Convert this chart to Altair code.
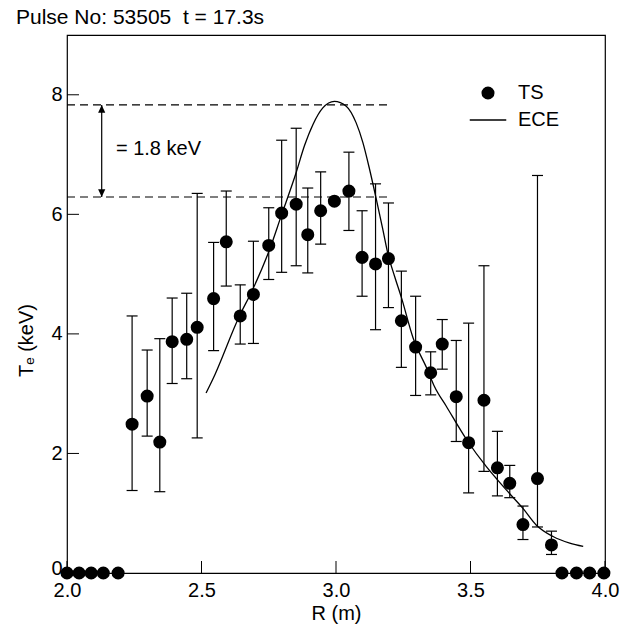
import altair as alt
import pandas as pd

title_text = "Pulse No: 53505\u00a0 t = 17.3s"

# Thomson scattering (TS) profile, R (m) and Te (keV)
ts_r = [2.000, 2.045, 2.090, 2.135, 2.190, 2.242, 2.298, 2.345, 2.391, 2.445,
        2.484, 2.545, 2.592, 2.644, 2.693, 2.750, 2.798, 2.852, 2.895, 2.943,
        2.994, 3.048, 3.097, 3.147, 3.195, 3.243, 3.296, 3.352, 3.395, 3.447,
        3.493, 3.550, 3.600, 3.646, 3.695, 3.749, 3.801, 3.840, 3.894, 3.943,
        3.996]
ts_te = [0, 0, 0, 0, 0, 2.49, 2.96, 2.19, 3.87, 3.91,
         4.11, 4.59, 5.54, 4.30, 4.66, 5.48, 6.02, 6.17, 5.66, 6.06,
         6.22, 6.39, 5.28, 5.17, 5.26, 4.22, 3.78, 3.35, 3.83, 2.95,
         2.18, 2.89, 1.76, 1.50, 0.81, 1.58, 0.47, 0, 0, 0,
         0]

# TS error bars
err_r = [2.242, 2.298, 2.345, 2.391, 2.445, 2.484, 2.545, 2.592, 2.644, 2.693,
         2.750, 2.798, 2.852, 2.895, 2.943, 3.048, 3.097, 3.147, 3.195, 3.243,
         3.296, 3.352, 3.395, 3.447, 3.493, 3.550, 3.600, 3.646, 3.695, 3.749,
         3.801]
err_hi = [4.30, 3.73, 3.92, 4.60, 4.68, 6.35, 5.53, 6.39, 4.82, 5.55,
          6.11, 7.24, 7.44, 6.44, 6.71, 7.04, 6.06, 6.51, 6.19, 5.05,
          4.63, 3.70, 4.24, 3.89, 4.18, 5.14, 2.37, 1.80, 1.12, 6.65,
          0.70]
err_lo = [1.38, 2.29, 1.36, 3.17, 3.25, 2.26, 3.72, 4.80, 3.83, 3.84,
          4.91, 5.03, 5.14, 5.02, 5.50, 5.73, 4.63, 4.07, 4.44, 3.44,
          2.97, 2.98, 3.41, 2.20, 1.34, 1.70, 1.29, 1.26, 0.56, 0.77,
          0.31]

# ECE profile
ece_r = [2.517, 2.542, 2.641, 2.690, 2.753, 2.796, 2.852, 2.883, 2.914, 2.951,
         2.994, 3.038, 3.075, 3.100, 3.125, 3.150, 3.174, 3.193, 3.218, 3.243,
         3.286, 3.340, 3.366, 3.410, 3.490, 3.559, 3.602, 3.645, 3.695, 3.745,
         3.807, 3.869, 3.919]
ece_te = [3.01, 3.24, 4.30, 4.74, 5.41, 5.97, 6.70, 7.15, 7.50, 7.78,
          7.89, 7.81, 7.53, 7.20, 6.75, 6.25, 5.75, 5.34, 4.96, 4.61,
          3.94, 3.40, 3.12, 2.79, 2.20, 1.78, 1.55, 1.33, 1.08, 0.80,
          0.61, 0.50, 0.445]

x_ticks = [2.0, 2.5, 3.0, 3.5, 4.0]
y_ticks = [0, 2, 4, 6, 8]

# annotation: difference between ECE peak and TS peak
dash_levels = [7.83, 6.29]
dash_start = [2.0, 2.0]
dash_end = [3.19, 3.19]
arrow_r = [2.129]
arrow_top = [7.83]
arrow_bot = [6.29]
note_text = ["= 1.8 keV"]
note_r = [2.182]
note_te = [7.085]

series_names = ["TS", "ECE"]

FONT = "Liberation Sans"

ts_df = pd.DataFrame({"R": ts_r, "Te": ts_te, "series": "TS"})
err_df = pd.DataFrame({"R": err_r, "hi": err_hi, "lo": err_lo})
ece_df = pd.DataFrame({"R": ece_r, "Te": ece_te})
xt_df = pd.DataFrame({"R": x_ticks, "Te": [0] * len(x_ticks)})
yt_df = pd.DataFrame({"R": [2.0] * len(y_ticks), "Te": y_ticks})
dash_df = pd.DataFrame({"R": dash_start, "R2": dash_end, "Te": dash_levels})
arrow_df = pd.DataFrame({"R": arrow_r, "Te": arrow_top, "Te2": arrow_bot})
note_df = pd.DataFrame({"R": note_r, "Te": note_te, "txt": note_text})

xs = alt.Scale(domain=[2.0, 4.0], nice=False, zero=False)
ys = alt.Scale(domain=[0, 9], nice=False, zero=False)

xaxis = alt.Axis(values=x_ticks, format=".1f", ticks=False, domain=False, grid=False,
                 labelFontSize=20, labelPadding=7, labelFlush=False, labelColor="black",
                 title="R (m)", titleFontSize=20, titleFontWeight="normal",
                 titleColor="black", titlePadding=3)
yaxis = alt.Axis(values=y_ticks, format="d", ticks=False, domain=False, grid=False,
                 labelFontSize=20, labelPadding=5, labelFlush=False, labelColor="black",
                 labelOffset={"expr": "datum.value == 0 ? -5 : 0"},
                 title="T\u2091 (keV)", titleFontSize=20, titleFontWeight="normal",
                 titleColor="black", titleAngle=270, titleBaseline="middle",
                 titleX=-41, titleY=305)


def X(field):
    return alt.X(field, type="quantitative", scale=xs, axis=xaxis)


def Y(field):
    return alt.Y(field, type="quantitative", scale=ys, axis=yaxis)


points = alt.Chart(ts_df).mark_point(filled=True, color="black", opacity=1, size=170).encode(
    x=X("R"), y=Y("Te"),
    shape=alt.Shape("series:N",
                    scale=alt.Scale(domain=series_names,
                                    range=["circle", "M-2.8,-0.1L2.8,-0.1L2.8,0.1L-2.8,0.1Z"]),
                    legend=alt.Legend(title=None, orient="none", legendX=411, legendY=48,
                                      labelFontSize=20, labelFont=FONT, labelColor="black",
                                      symbolSize=170, symbolFillColor="black",
                                      symbolStrokeColor="black", symbolStrokeWidth=0,
                                      symbolOpacity=1, labelOffset=20, rowPadding=7,
                                      padding=0)),
)

err_rule = alt.Chart(err_df).mark_rule(color="black", strokeWidth=1.2).encode(
    x=X("R"), y=Y("lo"), y2="hi")
cap_hi = alt.Chart(err_df).mark_tick(color="black", orient="horizontal", size=11,
                                     thickness=1.2, opacity=1).encode(x=X("R"), y=Y("hi"))
cap_lo = alt.Chart(err_df).mark_tick(color="black", orient="horizontal", size=11,
                                     thickness=1.2, opacity=1).encode(x=X("R"), y=Y("lo"))

ece_line = alt.Chart(ece_df).mark_line(color="black", strokeWidth=1.3,
                                       interpolate="monotone").encode(x=X("R"), y=Y("Te"))

dashes = alt.Chart(dash_df).mark_rule(color="black", strokeWidth=1.2, strokeDash=[8, 5]).encode(
    x=X("R"), x2="R2", y=Y("Te"))

shaft = alt.Chart(arrow_df).mark_rule(color="black", strokeWidth=1.2).encode(
    x=X("R"), y=Y("Te"), y2="Te2")
head_up = alt.Chart(arrow_df).mark_point(shape="M0,0L-0.55,1.2L0.55,1.2Z", filled=True,
                                         color="black", opacity=1, size=170).encode(
    x=X("R"), y=Y("Te"))
head_dn = alt.Chart(arrow_df).mark_point(shape="M0,0L-0.55,-1.2L0.55,-1.2Z", filled=True,
                                         color="black", opacity=1, size=170).encode(
    x=X("R"), y=Y("Te2"))

note = alt.Chart(note_df).mark_text(align="left", baseline="middle", fontSize=20, font=FONT,
                                    color="black").encode(x=X("R"), y=Y("Te"), text="txt:N")

xt = alt.Chart(xt_df).mark_tick(color="black", orient="vertical", size=12, thickness=1,
                                yOffset=-6, opacity=1).encode(x=X("R"), y=Y("Te"))
yt = alt.Chart(yt_df).mark_tick(color="black", orient="horizontal", size=12, thickness=1,
                                xOffset=6, opacity=1).encode(x=X("R"), y=Y("Te"))

chart = alt.layer(
    xt, yt, dashes, shaft, head_up, head_dn, note, ece_line, err_rule, cap_hi, cap_lo, points
).properties(
    width=538, height=538,
    title=alt.TitleParams(title_text, anchor="start", fontSize=21, font=FONT,
                          fontWeight="normal", color="black", offset=7),
    autosize=alt.AutoSizeParams(type="none"),
    padding={"left": 67, "top": 35, "right": 27, "bottom": 51},
).configure(font=FONT).configure_view(stroke="black", strokeWidth=1.2)

chart.save("out.html", embed_options={"renderer": "svg", "actions": False})
